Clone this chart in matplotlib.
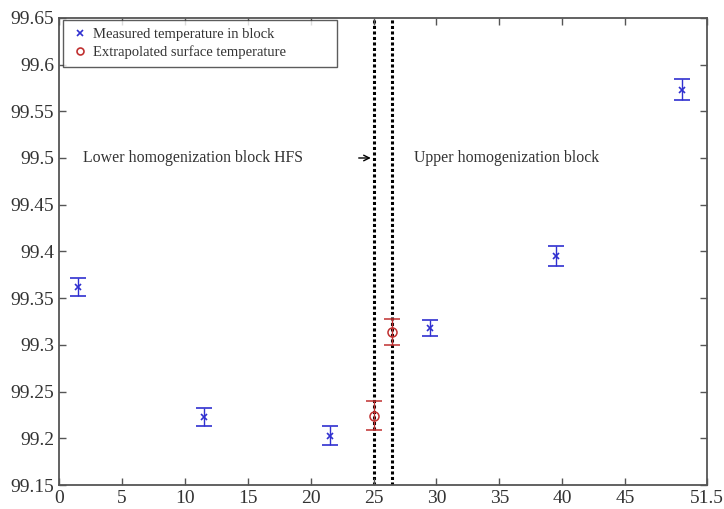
import matplotlib
matplotlib.use("Agg")
import matplotlib.pyplot as plt
from matplotlib.lines import Line2D

plt.rcParams['font.family'] = ['Liberation Serif', 'DejaVu Serif']

# Measured temperatures inside the homogenization blocks
block_pos = [1.5, 11.5, 21.5, 29.5, 39.5, 49.5]
block_temp = [99.362, 99.223, 99.203, 99.318, 99.395, 99.573]
block_err = [0.010, 0.010, 0.010, 0.009, 0.0105, 0.011]

# Temperatures extrapolated to the block surfaces
surf_pos = [25.0, 26.5]
surf_temp = [99.224, 99.314]
surf_err = [0.0155, 0.014]

# Block boundaries
boundaries = [25.0, 26.5]

xticks = [0, 5, 10, 15, 20, 25, 30, 35, 40, 45, 51.5]
xticklabels = ['0', '5', '10', '15', '20', '25', '30', '35', '40', '45', '51.5']
yticks = [99.15, 99.2, 99.25, 99.3, 99.35, 99.4, 99.45, 99.5, 99.55, 99.6, 99.65]
yticklabels = ['99.15', '99.2', '99.25', '99.3', '99.35', '99.4', '99.45',
               '99.5', '99.55', '99.6', '99.65']

fig = plt.figure(figsize=(7.24, 5.09), dpi=100)
ax = fig.add_axes([0.0815, 0.047, 0.895, 0.918])

for b in boundaries:
    ax.axvline(b, color='black', linestyle=(0, (1, 0.8)), linewidth=2.2, zorder=1)

ax.errorbar(block_pos, block_temp, yerr=block_err, fmt='x', color='#3030d0',
            markersize=4, markeredgewidth=1.2, elinewidth=1.0, capsize=5.5,
            capthick=1.0, zorder=3)
ax.errorbar(surf_pos, surf_temp, yerr=surf_err, fmt='o', color='#c03030',
            markerfacecolor='none', markersize=6.5, markeredgewidth=1.1,
            elinewidth=1.0, capsize=6, capthick=1.0, zorder=3)

ax.annotate('', xy=(25.0, 99.5), xytext=(23.6, 99.5),
            arrowprops=dict(arrowstyle='->', color='black', lw=1.0))
ax.text(1.9, 99.5, 'Lower homogenization block HFS', fontsize=11.4,
        color='#333333', va='center', ha='left')
ax.text(28.2, 99.5, 'Upper homogenization block', fontsize=11.4,
        color='#333333', va='center', ha='left')

ax.set_xlim(0, 51.5)
ax.set_ylim(99.15, 99.65)
ax.set_xticks(xticks)
ax.set_xticklabels(xticklabels)
ax.set_yticks(yticks)
ax.set_yticklabels(yticklabels)
ax.tick_params(direction='in', length=5, width=1.0, labelsize=14,
               top=True, right=True, labelcolor='#333333', color='#555555')
for s in ax.spines.values():
    s.set_color('#555555')
    s.set_linewidth(1.3)

handles = [
    Line2D([], [], linestyle='none', marker='x', color='#3030d0',
           markersize=4, markeredgewidth=1.2),
    Line2D([], [], linestyle='none', marker='o', color='#c03030',
           markerfacecolor='none', markersize=5, markeredgewidth=1.2),
]
leg = ax.legend(handles, ['Measured temperature in block',
                          'Extrapolated surface temperature'],
                loc='upper left', bbox_to_anchor=(0.006, 0.5, 0.423, 0.496),
                mode='expand', fontsize=10.5,
                frameon=True, fancybox=False, handlelength=1.2,
                handletextpad=0.3, borderpad=0.55, labelspacing=0.3,
                borderaxespad=0)
leg.get_frame().set_edgecolor('#333333')
leg.get_frame().set_linewidth(1.0)
for t in leg.get_texts():
    t.set_color('#333333')

fig.savefig('out.png', dpi=100)
